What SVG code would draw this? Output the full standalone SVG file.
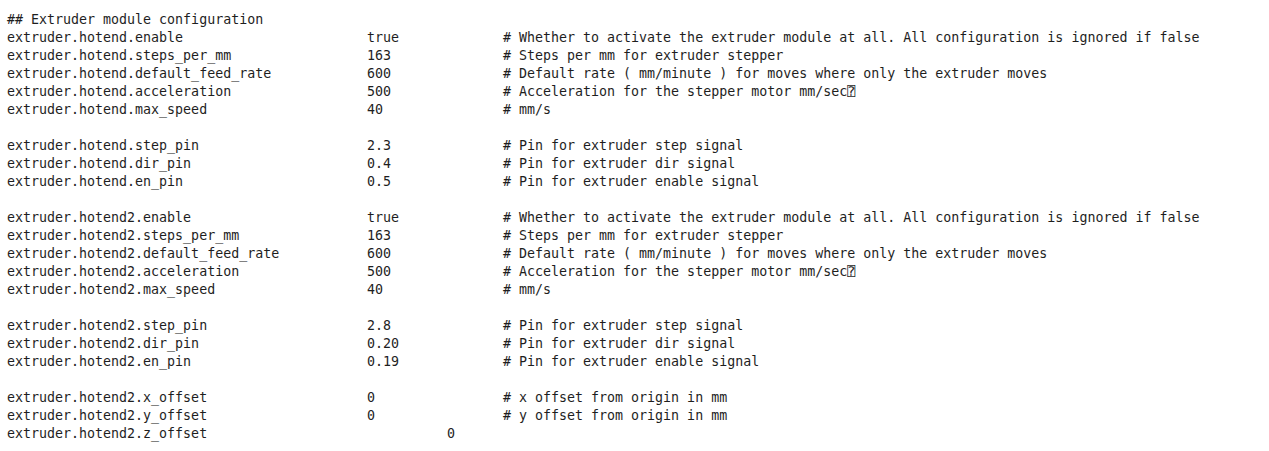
<svg xmlns="http://www.w3.org/2000/svg" width="1269" height="451" viewBox="0 0 1269 451">
<style>
text{font-family:"DejaVu Sans Mono","Liberation Mono",monospace;font-size:13.3px;fill:#1e1e1e}
</style>
<rect width="1269" height="451" fill="#ffffff"/>
<g id="listing">
<text x="7" y="23.5">## Extruder module configuration</text>
<text x="7" y="41.5">extruder.hotend.enable</text><text x="367" y="41.5">true</text><text x="503" y="41.5"># Whether to activate the extruder module at all. All configuration is ignored if false</text>
<text x="7" y="59.5">extruder.hotend.steps_per_mm</text><text x="367" y="59.5">163</text><text x="503" y="59.5"># Steps per mm for extruder stepper</text>
<text x="7" y="77.5">extruder.hotend.default_feed_rate</text><text x="367" y="77.5">600</text><text x="503" y="77.5"># Default rate ( mm/minute ) for moves where only the extruder moves</text>
<text x="7" y="95.5">extruder.hotend.acceleration</text><text x="367" y="95.5">500</text><text x="503" y="95.5"># Acceleration for the stepper motor mm/sec⍰</text>
<text x="7" y="113.5">extruder.hotend.max_speed</text><text x="367" y="113.5">40</text><text x="503" y="113.5"># mm/s</text>
<text x="7" y="149.5">extruder.hotend.step_pin</text><text x="367" y="149.5">2.3</text><text x="503" y="149.5"># Pin for extruder step signal</text>
<text x="7" y="167.5">extruder.hotend.dir_pin</text><text x="367" y="167.5">0.4</text><text x="503" y="167.5"># Pin for extruder dir signal</text>
<text x="7" y="185.5">extruder.hotend.en_pin</text><text x="367" y="185.5">0.5</text><text x="503" y="185.5"># Pin for extruder enable signal</text>
<text x="7" y="221.5">extruder.hotend2.enable</text><text x="367" y="221.5">true</text><text x="503" y="221.5"># Whether to activate the extruder module at all. All configuration is ignored if false</text>
<text x="7" y="239.5">extruder.hotend2.steps_per_mm</text><text x="367" y="239.5">163</text><text x="503" y="239.5"># Steps per mm for extruder stepper</text>
<text x="7" y="257.5">extruder.hotend2.default_feed_rate</text><text x="367" y="257.5">600</text><text x="503" y="257.5"># Default rate ( mm/minute ) for moves where only the extruder moves</text>
<text x="7" y="275.5">extruder.hotend2.acceleration</text><text x="367" y="275.5">500</text><text x="503" y="275.5"># Acceleration for the stepper motor mm/sec⍰</text>
<text x="7" y="293.5">extruder.hotend2.max_speed</text><text x="367" y="293.5">40</text><text x="503" y="293.5"># mm/s</text>
<text x="7" y="329.5">extruder.hotend2.step_pin</text><text x="367" y="329.5">2.8</text><text x="503" y="329.5"># Pin for extruder step signal</text>
<text x="7" y="347.5">extruder.hotend2.dir_pin</text><text x="367" y="347.5">0.20</text><text x="503" y="347.5"># Pin for extruder dir signal</text>
<text x="7" y="365.5">extruder.hotend2.en_pin</text><text x="367" y="365.5">0.19</text><text x="503" y="365.5"># Pin for extruder enable signal</text>
<text x="7" y="401.5">extruder.hotend2.x_offset</text><text x="367" y="401.5">0</text><text x="503" y="401.5"># x offset from origin in mm</text>
<text x="7" y="419.5">extruder.hotend2.y_offset</text><text x="367" y="419.5">0</text><text x="503" y="419.5"># y offset from origin in mm</text>
<text x="7" y="437.5">extruder.hotend2.z_offset</text><text x="447" y="437.5">0</text>
</g>
</svg>
